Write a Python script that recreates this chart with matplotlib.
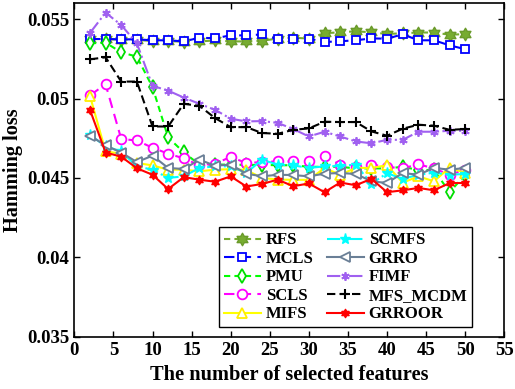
import numpy as np
import matplotlib
matplotlib.use("Agg")
import matplotlib.pyplot as plt
from matplotlib.path import Path

plt.rcParams['font.family'] = ['Liberation Serif', 'DejaVu Serif']
plt.rcParams['font.weight'] = 'bold'

n_features = [2, 4, 6, 8, 10, 12, 14, 16, 18, 20, 22, 24, 26,
              28, 30, 32, 34, 36, 38, 40, 42, 44, 46, 48, 50]

rfs = [0.05375, 0.05375, 0.0537, 0.0537, 0.05362, 0.05362, 0.05358, 0.0536, 0.05366,
       0.0536, 0.0536, 0.05364, 0.05378, 0.05383, 0.05378, 0.05412, 0.05417, 0.05424,
       0.05417, 0.05407, 0.05411, 0.05416, 0.05416, 0.05402, 0.05406]
mcls = [0.05375, 0.05375, 0.05373, 0.05373, 0.05367, 0.05367, 0.0536, 0.05383, 0.0538,
        0.05398, 0.05398, 0.05404, 0.05374, 0.05378, 0.05378, 0.05356, 0.05361, 0.05367,
        0.05379, 0.05377, 0.05405, 0.05367, 0.05367, 0.05335, 0.05311]
pmu = [0.05348, 0.05352, 0.05291, 0.05264, 0.05072, 0.04755, 0.04661, 0.04584, 0.04584,
       0.04584, 0.04582, 0.04582, 0.0458, 0.0458, 0.0457, 0.0457, 0.0457, 0.0456,
       0.0456, 0.0456, 0.0457, 0.0455, 0.0455, 0.0441, 0.0452]
scls = [0.0502, 0.0509, 0.04745, 0.04736, 0.0469, 0.04653, 0.04623, 0.0458, 0.0459,
        0.04632, 0.04594, 0.046, 0.04604, 0.04604, 0.04604, 0.04636, 0.04584, 0.0457,
        0.04584, 0.0457, 0.0456, 0.04586, 0.0456, 0.0452, 0.04552]
mifs = [0.05017, 0.04667, 0.04653, 0.04594, 0.04579, 0.04552, 0.04552, 0.04542, 0.04552,
        0.04555, 0.0455, 0.045, 0.0449, 0.04488, 0.04488, 0.04563, 0.0452, 0.04563,
        0.04563, 0.0458, 0.0447, 0.0451, 0.04479, 0.04565, 0.04531]
scmfs = [0.04772, 0.04699, 0.04667, 0.04573, 0.04552, 0.045, 0.0451, 0.04563, 0.04573,
         0.04573, 0.04531, 0.04615, 0.04584, 0.04579, 0.04563, 0.04573, 0.04575, 0.04584,
         0.04463, 0.0453, 0.04494, 0.0452, 0.04533, 0.0452, 0.04525]
grro = [0.04766, 0.04705, 0.0466, 0.046, 0.0464, 0.04563, 0.04556, 0.04615, 0.04577,
        0.04584, 0.04527, 0.0451, 0.0452, 0.04518, 0.0451, 0.04527, 0.04531, 0.04525,
        0.04479, 0.04468, 0.04531, 0.0452, 0.04563, 0.04552, 0.04563]
fimf = [0.05413, 0.05541, 0.05463, 0.05348, 0.0508, 0.0505, 0.05006, 0.04967, 0.04929,
        0.04873, 0.04856, 0.04858, 0.04847, 0.04808, 0.04761, 0.04791, 0.04761, 0.0473,
        0.04718, 0.0474, 0.0474, 0.04791, 0.04791, 0.04797, 0.04797]
mfs_mcdm = [0.05247, 0.0526, 0.05107, 0.05107, 0.04824, 0.04824, 0.04967, 0.04954, 0.04877,
            0.0482, 0.0482, 0.04783, 0.04778, 0.04803, 0.04812, 0.04854, 0.04852, 0.04852,
            0.04793, 0.04766, 0.0481, 0.04835, 0.04829, 0.04803, 0.04808]
grroor = [0.04929, 0.0466, 0.04634, 0.04561, 0.0452, 0.0443, 0.04505, 0.04489, 0.04476,
          0.0451, 0.04446, 0.04462, 0.04489, 0.04448, 0.04465, 0.0441, 0.04471, 0.04454,
          0.04494, 0.0441, 0.04422, 0.04437, 0.04422, 0.04468, 0.04468]


def hexagram():
    # six pointed star like matlab 'hexagram'
    ang = np.pi / 2 + np.arange(12) * np.pi / 6
    r = np.where(np.arange(12) % 2 == 0, 1.0, 0.577)
    verts = np.column_stack([r * np.cos(ang), r * np.sin(ang)])
    verts = np.vstack([verts, verts[:1]])
    codes = [Path.MOVETO] + [Path.LINETO] * 11 + [Path.CLOSEPOLY]
    return Path(verts, codes)


hexa = hexagram()
x = np.array(n_features)

fig = plt.figure(figsize=(5.15, 3.89), dpi=100)
ax = fig.add_axes([0.1443, 0.1345, 0.835, 0.857])

lw = 1.5
ax.plot(x, rfs, linestyle=(0, (3, 2)), color='#77AC30', lw=lw, marker=hexa, ms=9,
        mfc='#77AC30', mec='#6a9a2a', label='RFS')
ax.plot(x, mcls, linestyle=(0, (5, 3)), color='#0000FF', lw=lw, marker='s', ms=6,
        mfc='white', mec='#0000FF', mew=1.3, label='MCLS')
ax.plot(x, pmu, linestyle=(0, (3, 2)), color='#00FF00', lw=lw, marker='d', ms=7,
        mfc='white', mec='#00DD00', mew=1.3, label='PMU')
ax.plot(x, scls, linestyle=(0, (5, 3)), color='#FF00FF', lw=lw, marker='o', ms=7,
        mfc='white', mec='#FF00FF', mew=1.3, label='SCLS')
ax.plot(x, mifs, linestyle='-', color='#FFFF00', lw=lw, marker='^', ms=7,
        mfc='white', mec='#FFEE00', mew=1.3, label='MIFS')
ax.plot(x, scmfs, linestyle='-.', color='#00FFFF', lw=lw, marker='*', ms=8,
        mfc='#00FFFF', mec='#00FFFF', label='SCMFS')
ax.plot(x, grro, linestyle='-', color='#6A7F96', lw=lw, marker='<', ms=7,
        mfc='white', mec='#6A7F96', mew=1.3, label='GRRO')
ax.plot(x, fimf, linestyle='-.', color='#A060F0', lw=lw, marker=(6, 2, 0), ms=6,
        mec='#A060F0', mew=1.3, label='FIMF')
ax.plot(x, mfs_mcdm, linestyle=(0, (4, 2)), color='black', lw=lw, marker='+', ms=7,
        mec='black', mew=1.5, label='MFS_MCDM')
ax.plot(x, grroor, linestyle='-', color='#FF0000', lw=lw, marker=hexa, ms=6,
        mfc='#FF0000', mec='#FF0000', label='GRROOR')

ax.set_xlim(0, 55)
ax.set_ylim(0.035, 0.056)
ax.set_xticks(np.arange(0, 56, 5))
ax.set_yticks([0.035, 0.04, 0.045, 0.05, 0.055])
ax.set_yticklabels(['0.035', '0.04', '0.045', '0.05', '0.055'])
ax.tick_params(direction='in', length=4, width=1, top=True, right=True, labelsize=13.5)
for s in ax.spines.values():
    s.set_linewidth(1.2)

ax.set_xlabel('The number of selected features', fontsize=14.7, fontweight='bold', labelpad=5)
ax.set_ylabel('Hamming loss', fontsize=14.7, fontweight='bold', labelpad=3)

leg = ax.legend(ncol=2, loc='lower right', bbox_to_anchor=(0.9256, 0.028),
                fontsize=12, frameon=True, fancybox=False, edgecolor='black',
                framealpha=1, handlelength=2.2, handletextpad=0.3, columnspacing=0.8,
                labelspacing=0.15, borderpad=0.3, borderaxespad=0)
leg.get_frame().set_linewidth(1.0)
for t in leg.get_texts():
    t.set_fontweight('bold')

fig.savefig('out.png', dpi=100)
